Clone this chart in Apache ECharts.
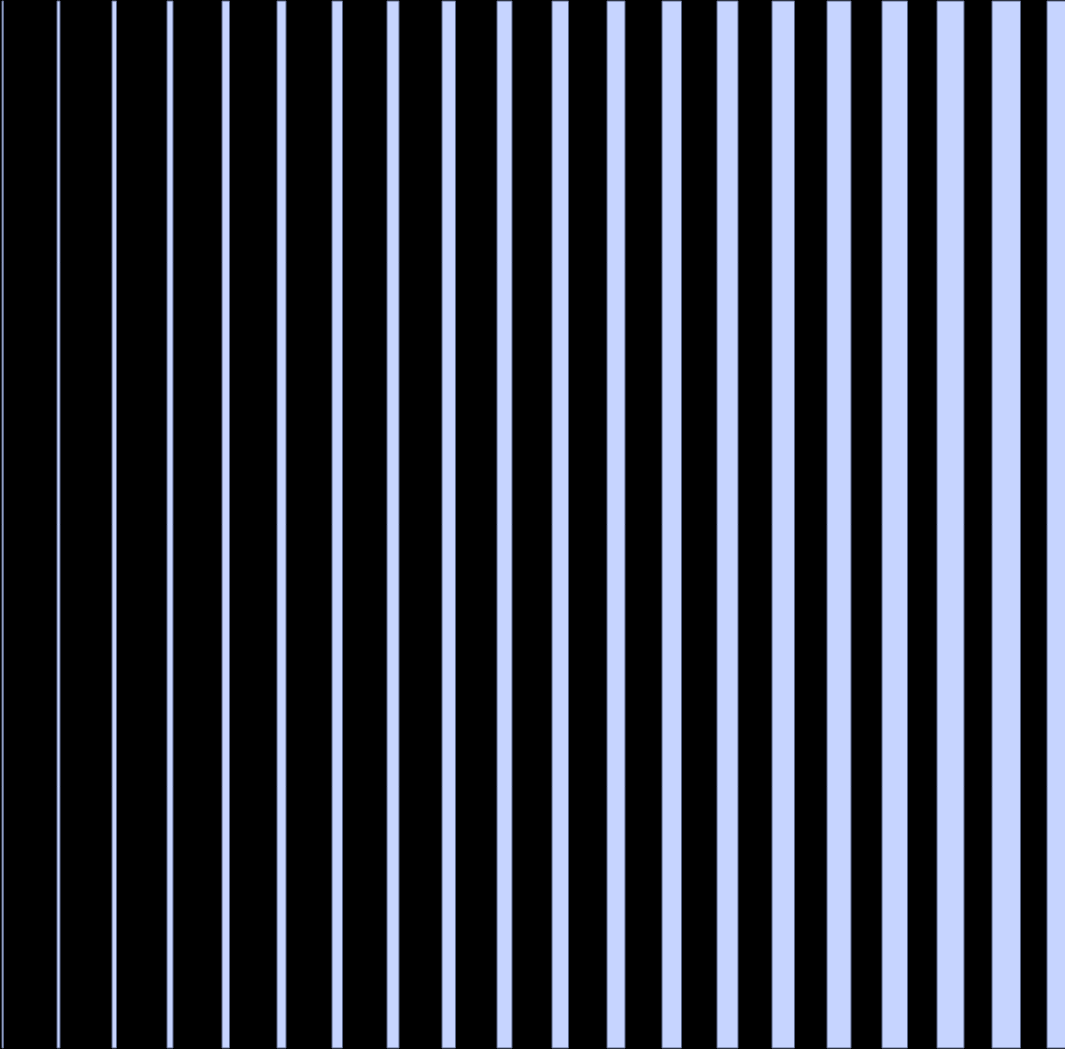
<!DOCTYPE html>
<html>
<head>
<meta charset="utf-8">
<style>
html,body{margin:0;padding:0;background:#000;}
#chart{width:1065px;height:1049px;}
</style>
<script src="https://cdn.jsdelivr.net/npm/echarts@6/dist/echarts.min.js"></script>
</head>
<body>
<div id="chart"></div>
<script>
var categories = ['1','2','3','4','5','6','7','8','9','10','11','12','13','14','15','16','17','18','19','20'];
var barStarts = [2, 57, 112, 167, 222, 277, 332, 387, 442, 497, 552, 607, 662, 717, 772, 827, 882, 937, 992, 1047];
var barWidths = [1.5, 3, 4.5, 6, 7.5, 9, 10.5, 12, 13.5, 15, 16.5, 18, 19.5, 21, 22.5, 24, 25.5, 27, 28.5, 30];

var data = categories.map(function (c, i) { return [barStarts[i], barWidths[i], c]; });

var chart = echarts.init(document.getElementById('chart'), null, {renderer: 'canvas'});
chart.setOption({
  backgroundColor: '#000000',
  animation: false,
  grid: {left: 0, right: 0, top: 1, bottom: 1},
  xAxis: {type: 'value', min: 0, max: 1065, show: false},
  yAxis: {type: 'value', min: 0, max: 1, show: false},
  series: [{
    type: 'custom',
    data: data,
    clip: false,
    encode: {x: 0},
    renderItem: function (params, api) {
      var x0 = api.value(0);
      var w = api.value(1);
      var p0 = api.coord([x0, 1]);
      var p1 = api.coord([x0 + w, 0]);
      return {
        type: 'rect',
        shape: {x: p0[0], y: p0[1], width: p1[0] - p0[0], height: p1[1] - p0[1]},
        style: {fill: '#c6d4ff', stroke: '#5a6788', lineWidth: 1}
      };
    }
  }]
});
</script>
</body>
</html>
